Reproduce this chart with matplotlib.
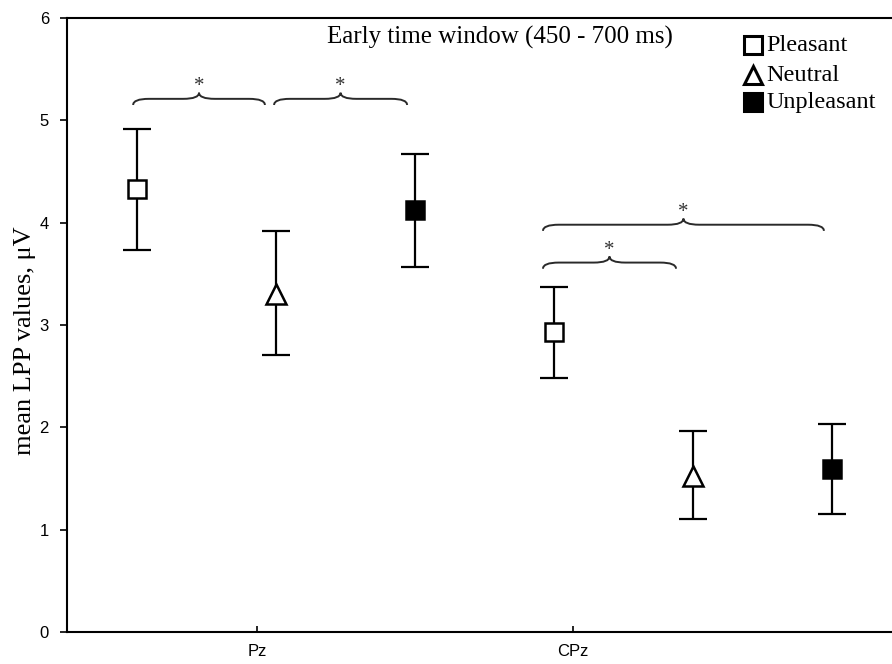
import matplotlib
matplotlib.use("Agg")
import matplotlib.pyplot as plt
from matplotlib.path import Path
from matplotlib.patches import PathPatch

# data
sites = ["Pz", "CPz"]
conditions = ["Pleasant", "Neutral", "Unpleasant"]
means = {
    "Pz": [4.33, 3.30, 4.12],
    "CPz": [2.93, 1.52, 1.59],
}
upper = {
    "Pz": [4.92, 3.92, 4.67],
    "CPz": [3.37, 1.96, 2.03],
}
lower = {
    "Pz": [3.73, 2.71, 3.57],
    "CPz": [2.48, 1.10, 1.15],
}
# significance braces: (x start, x end, level)
braces = [(0.608, 1.025, 5.21), (1.054, 1.475, 5.21),
          (1.905, 2.794, 3.98), (1.905, 2.326, 3.61)]

site_ticks = [1, 2]
group_centers = [1.06, 2.38]
offsets = [-0.44, 0.0, 0.44]
markers = ["s", "^", "s"]
faces = ["white", "white", "black"]

serif = "Liberation Serif"
sans = "Liberation Sans"

fig = plt.figure(figsize=(8.92, 6.64), dpi=100)
ax = fig.add_axes([67 / 892, 32 / 664, 825 / 892, 614 / 664])

for si, site in enumerate(sites):
    for ci in range(len(conditions)):
        x = group_centers[si] + offsets[ci]
        m = means[site][ci]
        err = [[m - lower[site][ci]], [upper[site][ci] - m]]
        ax.errorbar([x], [m], yerr=err, fmt="none", ecolor="black",
                    elinewidth=1.6, capsize=10, capthick=1.6, zorder=2)
        ax.plot([x], [m], marker=markers[ci], markersize=13 if ci != 1 else 14,
                markerfacecolor=faces[ci], markeredgecolor="black",
                markeredgewidth=1.8, linestyle="none", zorder=3)


def brace(ax, x0, x1, y, h=0.06, r=0.05):
    xm = (x0 + x1) / 2
    verts = [(x0, y - h), (x0, y), (x0 + r, y),
             (xm - r, y), (xm, y), (xm, y + h),
             (xm, y), (xm + r, y),
             (x1 - r, y), (x1, y), (x1, y - h)]
    codes = [Path.MOVETO, Path.CURVE3, Path.CURVE3,
             Path.LINETO, Path.CURVE3, Path.CURVE3,
             Path.CURVE3, Path.CURVE3,
             Path.LINETO, Path.CURVE3, Path.CURVE3]
    ax.add_patch(PathPatch(Path(verts, codes), facecolor="none",
                           edgecolor="#2a2a2a", linewidth=1.4))
    ax.text(xm, y + h - 0.03, "*", ha="center", va="bottom",
            fontsize=15, family=serif, color="#333333")


for x0, x1, y in braces:
    brace(ax, x0, x1, y)

ax.set_xlim(0.3987, 3.0095)
ax.set_ylim(0, 6)
ax.set_yticks(range(0, 7))
ax.set_xticks(site_ticks)
ax.set_xticklabels(sites)
for lab in ax.get_xticklabels() + ax.get_yticklabels():
    lab.set_family(sans)
    lab.set_fontsize(12)
ax.tick_params(axis="y", direction="out", length=5, width=1.2, pad=8)
ax.tick_params(axis="x", direction="in", length=4, width=1.2, pad=9)
ax.spines["right"].set_visible(False)
for s in ["left", "bottom", "top"]:
    ax.spines[s].set_linewidth(1.5)

ax.set_ylabel("mean LPP values, μV", family=serif, fontsize=19)
ax.yaxis.set_label_coords(-31 / 825, 0.474)
ax.text(0.525, 0.969, "Early time window (450 - 700 ms)", transform=ax.transAxes,
        ha="center", va="center", family=serif, fontsize=18)

# legend drawn by hand to match the original placement
legend_y = [0.956, 0.907, 0.863]
for i, label in enumerate(conditions):
    ax.plot([0.8315], [legend_y[i]], transform=ax.transAxes, marker=markers[i],
            markersize=13, markerfacecolor=faces[i], markeredgecolor="black",
            markeredgewidth=2.2, linestyle="none", clip_on=False)
    ax.text(0.848, legend_y[i], label, transform=ax.transAxes, ha="left",
            va="center", family=serif, fontsize=17.5)

fig.savefig("out.png", dpi=100)
